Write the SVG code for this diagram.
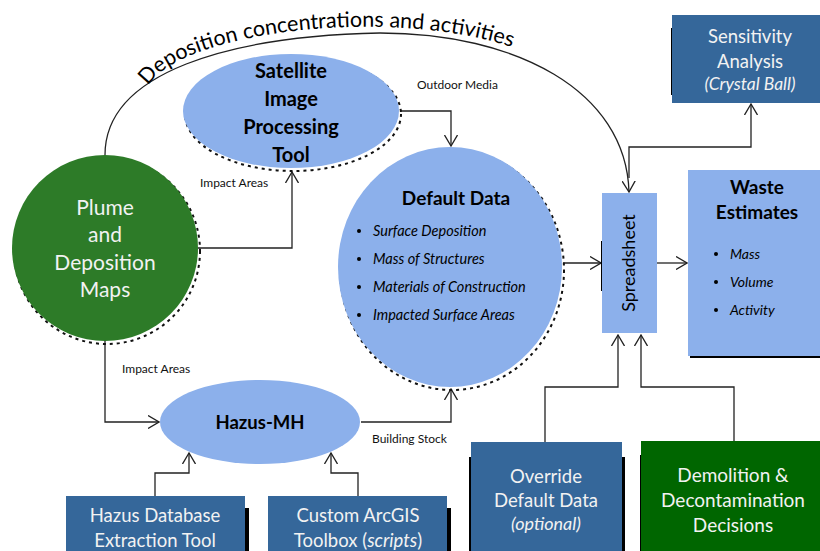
<svg xmlns="http://www.w3.org/2000/svg" width="820" height="551" viewBox="0 0 820 551">
<style>
.lb{fill:#8CB0EB}
.db{fill:#35679A}
.conn{fill:none;stroke:#222;stroke-width:1.3}
.t{font-family:Lato,"Liberation Sans",sans-serif}
.b{font-weight:bold;fill:#000}
.w{fill:#F2F2F2}
.sm{font-size:12px;fill:#111}
.it{font-style:italic}
.sh{fill:none;stroke:#111;stroke-width:2;stroke-dasharray:3 4}
</style>
<defs>
<marker id="ar" viewBox="0 0 12 14" refX="11" refY="7" markerWidth="12" markerHeight="14" markerUnits="userSpaceOnUse" orient="auto">
<path d="M0,0.5 L11,7 L0,13.5" fill="none" stroke="#222" stroke-width="1.3"/>
</marker>
<path id="arc" d="M148,86 C182,30 400,5 520,50"/>
</defs>

<g id="connectors">
<path class="conn" d="M105,155 C105,72 230,36 380,33 C515,33 626,90 629,192" marker-end="url(#ar)"/>
<path class="conn" d="M198,248 H292 V172" marker-end="url(#ar)"/>
<path class="conn" d="M105,340 V422 H159" marker-end="url(#ar)"/>
<path class="conn" d="M400,111 H451 V146" marker-end="url(#ar)"/>
<path class="conn" d="M361,422 H451 V389" marker-end="url(#ar)"/>
<path class="conn" d="M563,263 H601" marker-end="url(#ar)"/>
<path class="conn" d="M657,263 H687" marker-end="url(#ar)"/>
<path class="conn" d="M629,178 V147 H751 V104" marker-end="url(#ar)"/>
<path class="conn" d="M545,442 V387 H618 V335" marker-end="url(#ar)"/>
<path class="conn" d="M734,441 V387 H641 V335" marker-end="url(#ar)"/>
<path class="conn" d="M155,496 V473 H189 V453" marker-end="url(#ar)"/>
<path class="conn" d="M358,496 V473 H331 V453" marker-end="url(#ar)"/>
<line x1="602" y1="241" x2="602" y2="291" stroke="#000" stroke-width="2"/>
<text class="t" font-size="21.5" fill="#000"><textPath href="#arc">Deposition concentrations and activities</textPath></text>
<text class="t sm" x="200" y="187">Impact Areas</text>
<text class="t sm" x="122" y="373">Impact Areas</text>
<text class="t sm" x="417" y="89">Outdoor Media</text>
<text class="t sm" x="372" y="443">Building Stock</text>
</g>

<g id="satellite">
<ellipse class="sh" cx="293" cy="114" rx="108" ry="57"/>
<ellipse class="lb" cx="291" cy="111" rx="108" ry="57"/>
<text class="t b" font-size="20" text-anchor="middle"><tspan x="291" y="78">Satellite</tspan><tspan x="291" y="106">Image</tspan><tspan x="291" y="134">Processing</tspan><tspan x="291" y="162">Tool</tspan></text>
</g>

<g id="plume">
<circle class="sh" cx="107" cy="251" r="93"/>
<circle cx="105" cy="248" r="93" fill="#2D7B28"/>
<text class="t w" font-size="21" text-anchor="middle"><tspan x="105" y="215">Plume</tspan><tspan x="105" y="242">and</tspan><tspan x="105" y="270">Deposition</tspan><tspan x="105" y="297">Maps</tspan></text>
</g>

<g id="default-data">
<ellipse class="sh" cx="452" cy="270" rx="112" ry="120"/>
<ellipse class="lb" cx="450" cy="267" rx="112" ry="120"/>
<text class="t b" font-size="19" x="456" y="205" text-anchor="middle">Default Data</text>
<g class="t it" font-size="14.5" fill="#000">
<circle cx="359" cy="231" r="2"/><text x="373" y="236">Surface Deposition</text>
<circle cx="359" cy="259" r="2"/><text x="373" y="264">Mass of Structures</text>
<circle cx="359" cy="287" r="2"/><text x="373" y="292">Materials of Construction</text>
<circle cx="359" cy="315" r="2"/><text x="373" y="320">Impacted Surface Areas</text>
</g>
</g>

<g id="hazus">
<ellipse class="lb" cx="260" cy="422" rx="100" ry="42"/>
<text class="t b" font-size="18.5" x="260" y="429" text-anchor="middle">Hazus-MH</text>
</g>

<g id="spreadsheet">
<rect class="lb" x="602" y="193" width="55" height="140"/>
<text class="t" font-size="18" fill="#000" text-anchor="middle" transform="translate(635,263) rotate(-90)">Spreadsheet</text>
</g>

<g id="waste">
<rect x="690" y="172" width="130" height="186" fill="#000"/>
<rect class="lb" x="688" y="170" width="132" height="186"/>
<text class="t b" font-size="19" text-anchor="middle"><tspan x="757" y="194">Waste</tspan><tspan x="757" y="219">Estimates</tspan></text>
<g class="t it" font-size="14" fill="#000">
<circle cx="716" cy="254" r="2"/><text x="730" y="259">Mass</text>
<circle cx="716" cy="282" r="2"/><text x="730" y="287">Volume</text>
<circle cx="716" cy="310" r="2"/><text x="730" y="315">Activity</text>
</g>
</g>

<g id="sensitivity">
<rect x="671" y="28" width="4" height="67" fill="#000"/>
<rect class="db" x="672" y="15" width="148" height="88"/>
<text class="t w" font-size="18.5" text-anchor="middle"><tspan x="750" y="43">Sensitivity</tspan><tspan x="750" y="68">Analysis</tspan><tspan class="it" x="750" y="90" font-size="17.5">(Crystal Ball)</tspan></text>
</g>

<g id="override">
<rect x="469" y="457" width="156" height="94" fill="#000"/>
<rect class="db" x="471" y="442" width="151" height="109"/>
<text class="t w" font-size="18.5" text-anchor="middle"><tspan x="546" y="483">Override</tspan><tspan x="546" y="507">Default Data</tspan><tspan class="it" x="546" y="530" font-size="18">(optional)</tspan></text>
</g>

<g id="demolition">
<rect x="640" y="455" width="4" height="96" fill="#000"/>
<rect x="641" y="441" width="179" height="110" fill="#006600"/>
<text class="t w" font-size="19" text-anchor="middle"><tspan x="733" y="482">Demolition &amp;</tspan><tspan x="733" y="507">Decontamination</tspan><tspan x="733" y="532">Decisions</tspan></text>
</g>

<g id="hazus-db">
<rect x="68" y="508" width="181" height="43" fill="#000"/>
<rect class="db" x="66" y="496" width="179" height="55"/>
<text class="t w" font-size="18.5" text-anchor="middle"><tspan x="155" y="522">Hazus Database</tspan><tspan x="155" y="547">Extraction Tool</tspan></text>
</g>

<g id="arcgis">
<rect x="270" y="508" width="181" height="43" fill="#000"/>
<rect class="db" x="268" y="496" width="179" height="55"/>
<text class="t w" font-size="18.5" text-anchor="middle"><tspan x="358" y="522">Custom ArcGIS</tspan><tspan x="358" y="547">Toolbox (<tspan class="it">scripts</tspan>)</tspan></text>
</g>
</svg>
